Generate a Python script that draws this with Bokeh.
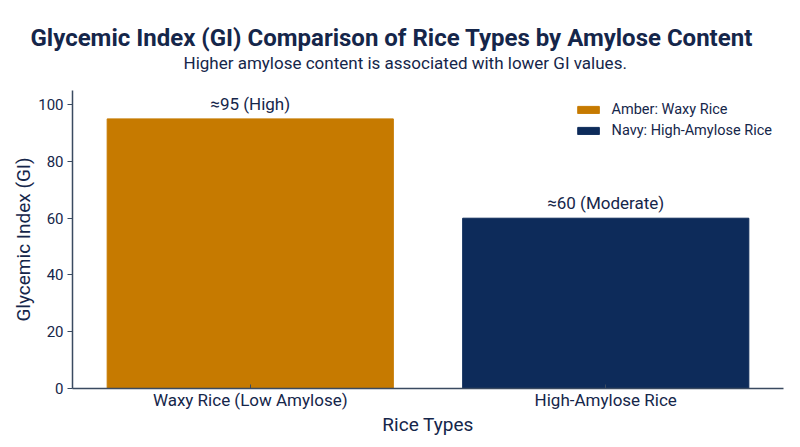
from bokeh.plotting import figure
from bokeh.models import ColumnDataSource, Title, Legend, LegendItem, FactorRange, Range1d, LabelSet
from bokeh.core.properties import value
from bokeh.embed import file_html
from bokeh.resources import INLINE

categories = ["Waxy Rice (Low Amylose)", "High-Amylose Rice"]
gi_values = [95, 60]
bar_labels = ["≈95 (High)", "≈60 (Moderate)"]
legend_labels = ["Amber: Waxy Rice", "Navy: High-Amylose Rice"]
colors = ["#C67A00", "#0D2B5A"]

TEXT = "#15264a"
AXIS = "#3a4a60"
FONT = "Roboto"

src = ColumnDataSource(dict(cat=categories, gi=gi_values, lab=bar_labels,
                            color=colors, leg=legend_labels))

p = figure(x_range=FactorRange(*categories, range_padding=0), y_range=Range1d(0, 105),
           width=799, height=446, output_backend="svg", toolbar_location=None,
           min_border_left=72, min_border_right=16, min_border_bottom=58, min_border_top=0)

# spacer between subtitle and plot frame
p.add_layout(Title(text=" ", text_font_size="12px", standoff=2), "above")
p.add_layout(Title(text="Higher amylose content is associated with lower GI values.",
                   align="left", text_font=FONT, text_font_size="17px",
                   text_font_style="normal", text_color=TEXT, offset=111, standoff=0), "above")
p.add_layout(Title(text="Glycemic Index (GI) Comparison of Rice Types by Amylose Content",
                   align="left", text_font=FONT, text_font_size="24px",
                   text_font_style="bold", text_color=TEXT, offset=-42, standoff=-3), "above")
# spacer above the main title
p.add_layout(Title(text=" ", text_font_size="12px", standoff=7), "above")

r = p.vbar(x="cat", top="gi", width=0.805, color="color", source=src)

labels = LabelSet(x="cat", y="gi", text="lab", source=src, text_align="center",
                  y_offset=5, text_font=value(FONT), text_font_size="17px", text_color=TEXT)
p.add_layout(labels)

legend = Legend(items=[LegendItem(label=legend_labels[i], renderers=[r], index=i) for i in range(2)],
                location="top_right", border_line_alpha=0, background_fill_alpha=0,
                label_text_font=FONT, label_text_font_size="14.5px", label_text_color=TEXT,
                glyph_width=27, glyph_height=9, spacing=4, margin=8, padding=3,
                label_height=17, label_standoff=10)
p.add_layout(legend)

p.xgrid.visible = False
p.ygrid.visible = False
p.outline_line_color = None

for ax in (p.xaxis, p.yaxis):
    ax.axis_line_color = AXIS
    ax.axis_line_width = 1.5
    ax.major_tick_line_color = AXIS
    ax.minor_tick_line_color = None
    ax.major_label_text_font = FONT
    ax.major_label_text_color = TEXT
    ax.axis_label_text_font = FONT
    ax.axis_label_text_font_size = "19px"
    ax.axis_label_text_font_style = "normal"
    ax.axis_label_text_color = TEXT

p.xaxis.major_label_text_font_size = "17px"
p.yaxis.major_label_text_font_size = "15px"
p.xaxis.axis_label = "Rice Types"
p.yaxis.axis_label = "Glycemic Index (GI)"
p.xaxis.major_tick_in = 4
p.xaxis.major_tick_out = 0
p.yaxis.major_tick_out = 5
p.yaxis.major_tick_in = 0
p.yaxis.ticker = [0, 20, 40, 60, 80, 100]
p.xaxis.major_label_standoff = 1
p.xaxis.axis_label_standoff = 0
p.yaxis.major_label_standoff = 4
p.yaxis.axis_label_standoff = 0

open("out.html", "w").write(file_html(p, INLINE))
